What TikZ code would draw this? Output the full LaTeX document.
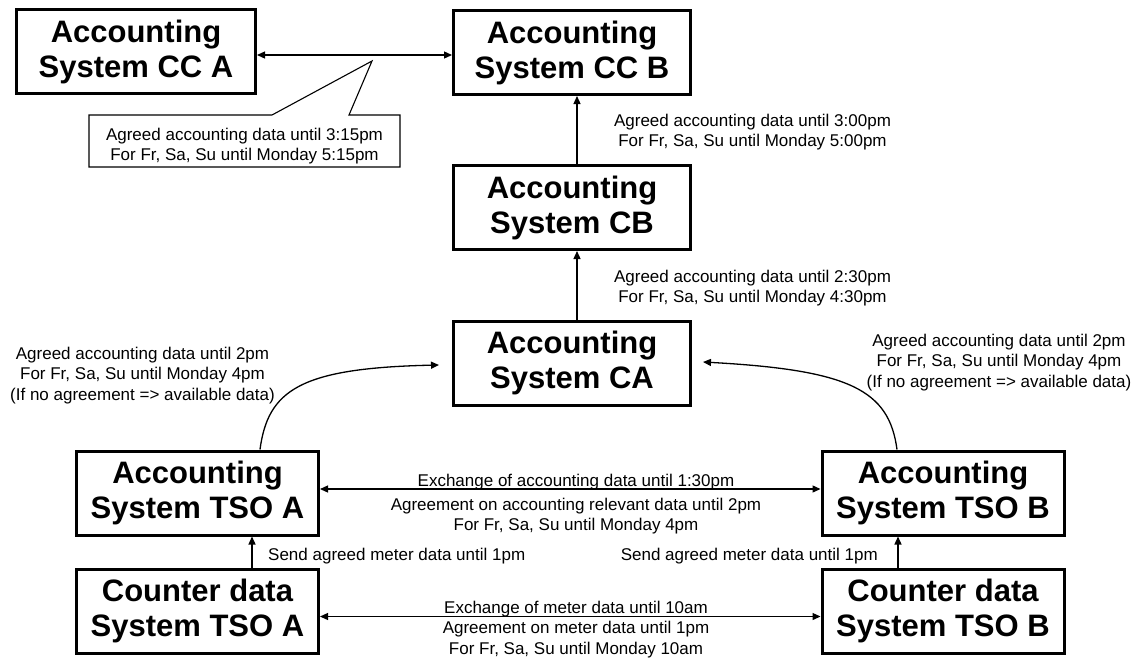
\documentclass[tikz,border=0pt]{standalone}
\usepackage{fontspec}
\setmainfont{Liberation Sans}
\usetikzlibrary{arrows.meta,calc}
\begin{document}
\begin{tikzpicture}[x=1pt,y=-1pt,
  sysbox/.style={draw,line width=3pt,fill=white,inner sep=0pt,
    minimum width=242pt,minimum height=84pt,align=center,
    font=\fontsize{31}{35}\selectfont\bfseries},
  note/.style={inner sep=0pt,align=center,font=\fontsize{17}{20.5}\selectfont},
  link/.style={line width=1.3pt,-{Triangle[length=8pt,width=7pt]}},
  both/.style={line width=1.3pt,{Triangle[length=8pt,width=7pt]}-{Triangle[length=8pt,width=7pt]}}]
\useasboundingbox (0,0) rectangle (1138,657);

% systems
\node[sysbox,minimum width=239pt] (cca) at (136,51.5) {Accounting\\System CC A};
\node[sysbox,minimum width=237pt] (ccb) at (572,52.5) {Accounting\\System CC B};
\node[sysbox,minimum width=237pt] (cb) at (572,207.5) {Accounting\\System CB};
\node[sysbox,minimum width=237pt] (ca) at (572,363) {Accounting\\System CA};
\node[sysbox] (tsoa) at (197.5,493) {Accounting\\System TSO A};
\node[sysbox] (cnta) at (197.5,611) {Counter data\\System TSO A};
\node[sysbox] (tsob) at (943,493) {Accounting\\System TSO B};
\node[sysbox] (cntb) at (943,611) {Counter data\\System TSO B};

% exchange between the two CC systems, with its callout
\draw[both] ($(cca.east)+(0,3.5)$) -- ($(ccb.west)+(0,2.5)$);
\coordinate (tip) at (372,61);
\draw[line width=1.1pt,fill=white] (89,115) -- (272,115) -- (tip) -- (349,115)
  -- (400,115) -- (400,167) -- (89,167) -- cycle;
\node[note,anchor=north] (l3) at (244.5,127.6)
  {Agreed accounting data until 3:15pm\\For Fr, Sa, Su until Monday 5:15pm};

% central column
\draw[link] ($(cb.north)+(5,0)$) -- ($(ccb.south)+(5,0)$);
\draw[link] ($(ca.north)+(5,0)$) -- ($(cb.south)+(5,0)$);
\node[note,anchor=north] (l1) at (752.5,113.6)
  {Agreed accounting data until 3:00pm\\For Fr, Sa, Su until Monday 5:00pm};
\node[note,anchor=north] (l2) at (752.5,269.6)
  {Agreed accounting data until 2:30pm\\For Fr, Sa, Su until Monday 4:30pm};

% TSO systems feeding CA
\draw[link] ($(tsoa.north)+(62.5,0)$) .. controls (268,390) and (300,368) .. ($(ca.west)+(-13,2)$);
\draw[link] ($(tsob.north)+(-46,0)$) .. controls (889,390) and (850,370) .. ($(ca.east)+(11,-1)$);
\node[note,anchor=north] (l4) at (142.5,346.6)
  {Agreed accounting data until 2pm\\For Fr, Sa, Su until Monday 4pm\\(If no agreement => available data)};
\node[note,anchor=north] (l5) at (999,333.6)
  {Agreed accounting data until 2pm\\For Fr, Sa, Su until Monday 4pm\\(If no agreement => available data)};

% accounting exchange between TSOs
\draw[both] ($(tsoa.east)+(0,-4)$) -- ($(tsob.west)+(0,-4)$);
\node[note,anchor=base] (xacc) at (576,486) {Exchange of accounting data until 1:30pm};
\node[note,anchor=north] (agacc) at (576,497.6)
  {Agreement on accounting relevant data until 2pm\\For Fr, Sa, Su until Monday 4pm};

% meter data
\draw[link] ($(cnta.north)+(54.5,0)$) -- ($(tsoa.south)+(54.5,0)$);
\draw[link] ($(cntb.north)+(-45,0)$) -- ($(tsob.south)+(-45,0)$);
\node[note,anchor=base west] (senda) at (268,560) {Send agreed meter data until 1pm};
\node[note,anchor=base east] (sendb) at (878,560) {Send agreed meter data until 1pm};

\draw[both] ($(cnta.east)+(0,5.5)$) -- ($(cntb.west)+(0,5.5)$);
\node[note,anchor=base] (xmet) at (576,613) {Exchange of meter data until 10am};
\node[note,anchor=north] (agmet) at (576,621)
  {Agreement on meter data until 1pm\\For Fr, Sa, Su until Monday 10am};
\end{tikzpicture}
\end{document}
